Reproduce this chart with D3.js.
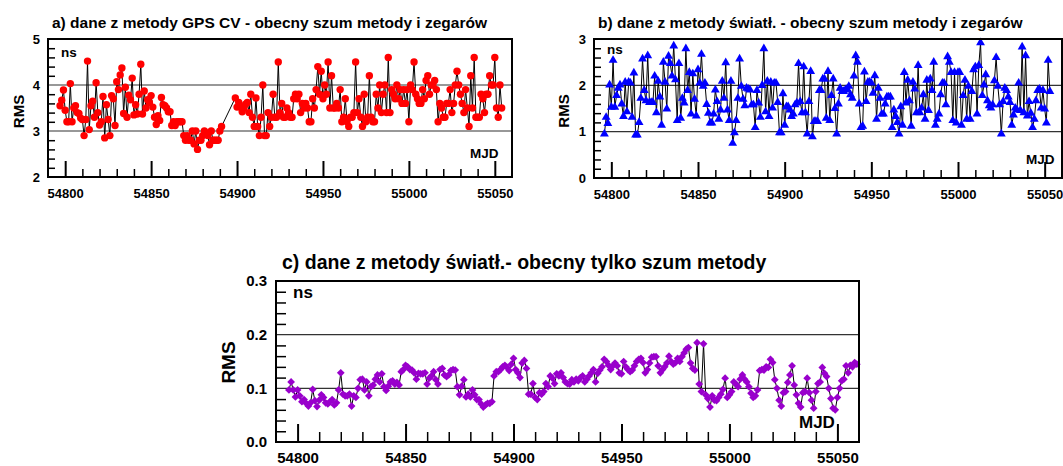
<!DOCTYPE html>
<html>
<head>
<meta charset="utf-8">
<script src="https://cdn.jsdelivr.net/npm/d3@7"></script>
<style>
body { margin: 0; background: #fff; }
svg text { font-family: "Liberation Sans", Arial, sans-serif; font-weight: bold; fill: #000; }
</style>
</head>
<body>
<svg id="chart" width="1063" height="466"></svg>
<script>
const mjdMin = 54790, mjdMax = 55060;
const mjdTicks = [54800, 54850, 54900, 54950, 55000, 55050];

// a) GPS CV, two runs of daily values (gap around MJD 54892-54898)
const gpsStart1 = 54797;
const gpsRms1 = [
    3.55, 3.67, 3.89, 3.45, 3.2, 3.2, 4.03, 3.2, 3.5, 3.55,
    3.4, 3.38, 3.28, 3.25, 2.9, 3.25, 4.52, 3.03, 3.55, 3.65,
    3.3, 4.05, 3.4, 3.13, 3.2, 3.75, 2.85, 3.57, 3.25, 2.9,
    3.77, 3.7, 3.12, 4.07, 3.9, 4.22, 4.37, 3.38, 3.95, 3.3,
    3.78, 3.68, 4.15, 3.35, 3.57, 3.37, 3.8, 4.45, 3.37, 3.87,
    3.5, 3.68, 3.62, 3.77, 3.52, 3.3, 3.14, 3.33, 3.23, 3.73,
    3.57, 3.55, 3.5, 3.42, 3.42, 3.12, 3.2, 3.12, 3.2, 3.2, 3.2,
    3.2, 2.9, 2.8, 2.9, 2.8, 2.8, 3.0, 2.72, 3.0, 2.6,
    2.8, 2.8, 2.9, 3.0, 2.95, 2.9, 2.7, 3.0, 2.8, 2.8, 2.8, 2.8, 3.0, 3.1
];
const gpsStart2 = 54899;
const gpsRms2 = [
    3.72, 3.52, 3.62, 3.52, 3.42, 3.5, 3.58, 3.62, 3.4, 3.8,
    3.3, 3.1, 3.72, 3.1, 2.9, 3.3, 4.0, 2.9, 2.9,
    3.4, 3.1, 3.3, 3.8, 3.3, 3.3, 4.5, 3.4, 3.6, 3.3,
    3.3, 3.5, 3.4, 3.3, 3.3, 3.7, 3.8, 3.7, 3.8, 3.4,
    3.6, 3.5, 3.6, 3.5, 3.2, 3.2, 3.7, 3.5, 3.9, 4.4,
    3.8, 4.3, 3.7, 4.0, 3.8, 4.5, 3.5, 4.2, 3.5, 3.5,
    3.6, 3.5, 3.9, 3.2, 3.3, 3.7, 3.2, 3.1, 3.3, 3.3,
    3.4, 4.5, 3.4, 3.7, 3.3, 3.1, 3.8, 3.2, 3.3, 4.2,
    3.3, 3.2, 3.2, 3.8, 3.5, 4.0, 3.4, 3.8, 4.0, 3.4,
    4.6, 3.4, 3.9, 3.8, 3.7, 4.0, 3.7, 3.9, 3.6, 3.9,
    3.6, 3.9, 3.2, 4.0, 3.9, 4.5, 3.8, 3.7, 3.6, 3.6,
    3.9, 3.7, 4.1, 4.2, 3.8, 4.0, 4.0, 4.1, 3.9, 3.2,
    3.6, 3.5, 3.3, 3.3, 3.6, 3.6, 3.9, 3.4, 3.6, 4.0,
    4.3, 4.0, 3.8, 3.6, 3.4, 3.9, 3.5, 3.1, 4.2, 3.5,
    4.6, 3.3, 3.3, 3.3, 3.8, 3.7, 3.4, 3.8, 3.8, 4.2,
    4.0, 4.0, 4.6, 3.5, 3.3, 4.0, 3.5
];

// b) light method with clock noise, daily
const lightStart = 54796;
const lightRms = [
    0.95, 1.31, 1.18, 2.01, 1.53, 2.54, 1.53, 1.78, 1.94, 2.01, 1.6,
    1.33, 2.07, 1.43, 2.07, 2.05, 1.31, 2.27, 0.93, 0.93, 1.2,
    1.72, 2.57, 1.89, 1.67, 2.64, 1.63, 1.63, 1.63, 2.2, 1.41, 2.09, 1.75, 1.14, 2.5, 2.07, 1.49, 2.63, 2.47, 2.2,
    2.85, 2.12, 1.24, 2.47, 1.29, 1.72, 1.62, 2.79, 1.89, 2.28, 1.38, 2.25, 1.7,
    1.34, 2.34, 2.05, 2.67, 1.98, 2.05, 1.59, 1.4,
    1.19, 1.19, 1.38, 1.9, 1.65, 1.27, 1.47, 2.09, 1.72, 2.49, 1.47, 1.24, 2.09, 0.75, 0.98,
    1.24, 1.72, 2.57, 1.98, 1.7, 1.56, 1.94, 1.92, 1.9, 1.58, 1.58, 1.09, 1.89, 1.62, 1.31, 2.0,
    2.79, 1.43, 2.09, 1.33, 2.07, 1.51, 2.05, 2.05, 1.63, 0.98, 0.98, 1.82, 1.14, 1.54, 1.54,
    1.47, 1.33, 1.38, 1.58, 1.62, 2.47, 1.65, 1.41, 2.4, 1.41, 0.95, 1.65, 2.3, 0.89, 1.22,
    1.22, 1.22, 1.89, 1.89, 2.14, 2.14, 1.29,
    2.3, 1.24, 1.78, 2.14, 1.5, 0.95, 1.6,
    1.94, 1.87, 1.87, 1.9, 1.92, 1.98, 1.8, 1.72, 2.2, 2.64, 2.5, 1.6,
    1.09, 1.12, 2.29, 1.65, 2.07, 2.07, 2.05, 1.83, 2.21, 1.27, 1.94, 1.72, 1.38, 1.38, 1.6,
    1.75, 1.75, 1.75, 1.09, 1.47, 1.33, 1.2,
    0.95, 1.54, 1.14, 2.28, 1.62, 2.11, 1.67, 1.12, 2.07, 1.92, 1.41, 2.43, 1.41, 1.51, 1.8,
    1.27, 2.11, 1.46, 2.14, 1.89, 2.5, 1.14, 1.27, 1.38, 1.8,
    2.05, 2.05, 1.58, 2.62, 2.5, 2.28, 1.24, 2.28, 1.19, 2.28, 2.28, 1.14, 1.78, 2.11, 1.27,
    1.98, 1.27, 1.87, 2.34, 2.4, 1.38, 2.43, 2.92, 1.78, 2.01, 2.23, 1.67, 1.56, 1.51, 1.58, 2.1,
    2.6, 1.98, 1.58, 0.95, 1.65, 1.94, 1.89, 1.75, 1.63, 1.14, 1.36, 1.51, 1.47, 2.05, 1.46,
    2.83, 1.41, 2.64, 1.34, 1.65, 1.4,
    1.09, 1.27, 1.67, 1.89, 1.92, 1.51, 1.89, 1.49, 1.19, 2.54, 1.87
];

// c) light method, method noise only, daily
const methodStart = 54796;
const methodRms = [
    0.097, 0.112, 0.097, 0.084, 0.097, 0.086, 0.075, 0.079, 0.072, 0.067,
    0.073, 0.098, 0.077, 0.066, 0.078, 0.088, 0.083, 0.073, 0.071, 0.075,
    0.079, 0.069, 0.073, 0.097, 0.129, 0.089, 0.086, 0.086, 0.089, 0.067,
    0.086, 0.083, 0.1, 0.116, 0.117, 0.097, 0.112, 0.086, 0.103, 0.106,
    0.117, 0.125, 0.112, 0.127, 0.103, 0.096, 0.104, 0.112, 0.114, 0.108,
    0.111, 0.106, 0.131, 0.135, 0.143, 0.14, 0.135, 0.134, 0.129, 0.117,
    0.128, 0.127, 0.127, 0.129, 0.108, 0.119, 0.123, 0.131, 0.116, 0.108,
    0.135, 0.137, 0.125, 0.122, 0.125, 0.133, 0.135, 0.134, 0.103, 0.088,
    0.104, 0.116, 0.084, 0.089, 0.084, 0.097, 0.088, 0.079, 0.079, 0.071,
    0.065, 0.069, 0.072, 0.072, 0.075, 0.123, 0.131, 0.131, 0.135, 0.14,
    0.143, 0.139, 0.133, 0.145, 0.156, 0.135, 0.129, 0.12, 0.147, 0.152,
    0.137, 0.089, 0.089, 0.109, 0.083, 0.079, 0.092, 0.089, 0.094, 0.109,
    0.103, 0.123, 0.119, 0.109, 0.127, 0.123, 0.129, 0.12, 0.112, 0.109,
    0.108,
    0.116, 0.112, 0.117, 0.114, 0.12, 0.123, 0.112, 0.117, 0.123, 0.129,
    0.135, 0.112, 0.128, 0.134, 0.14, 0.154, 0.15, 0.143, 0.135, 0.142,
    0.147, 0.142, 0.129, 0.127, 0.15, 0.14, 0.135, 0.131, 0.134, 0.142,
    0.15, 0.154, 0.156, 0.148, 0.129, 0.135, 0.147, 0.158, 0.159, 0.159,
    0.142, 0.129, 0.135, 0.14, 0.147, 0.16, 0.15, 0.145, 0.148, 0.156,
    0.15, 0.159, 0.166, 0.173, 0.176, 0.147, 0.137, 0.134, 0.185, 0.108,
    0.094, 0.183, 0.088, 0.081, 0.065, 0.086, 0.078, 0.077, 0.083, 0.089,
    0.098, 0.119, 0.083, 0.088, 0.094, 0.112, 0.108, 0.103, 0.117, 0.125,
    0.117, 0.112, 0.103, 0.091, 0.083, 0.086, 0.097, 0.133, 0.135, 0.134,
    0.14, 0.139, 0.154, 0.148, 0.116, 0.1, 0.078, 0.067, 0.092, 0.094,
    0.111, 0.125, 0.142, 0.106, 0.088, 0.072, 0.065, 0.092, 0.094, 0.119,
    0.092, 0.078, 0.063, 0.094, 0.109, 0.112, 0.139, 0.128, 0.122, 0.1,
    0.081, 0.063, 0.06, 0.083, 0.1, 0.114, 0.117, 0.142, 0.129, 0.143,
    0.14, 0.148, 0.145
];

const toPoints = (start, values) => values.map((v, i) => ({ mjd: start + i, v: v }));

const svg = d3.select('#chart');

const panels = [
    {
        title: 'a) dane z metody GPS CV - obecny szum metody i zegarów',
        points: toPoints(gpsStart1, gpsRms1).concat(toPoints(gpsStart2, gpsRms2)),
        left: 48, right: 512, top: 39, bottom: 177,
        yDomain: [2, 5], yMajor: [2, 3, 4, 5], grid: [3, 4], yMinorStep: 0.2, yFormat: d3.format('d'),
        marker: 'circle', color: '#ff0000',
        titleX: 52, titleY: 28, titleSize: 15.5,
        tickSize: 13, xPad: 12, yPad: 8,
        majorLen: 16, minorLen: 8, yMinorLen: 7,
        ns: [61, 57, 13.5], mjd: [470, 158, 13.5], rms: [24, 111.5, 15]
    },
    {
        title: 'b) dane z metody światł. - obecny szum metody i zegarów',
        points: toPoints(lightStart, lightRms),
        left: 594, right: 1062, top: 39, bottom: 178,
        yDomain: [0, 3], yMajor: [0, 1, 2, 3], grid: [1, 2], yMinorStep: 0.2, yFormat: d3.format('d'),
        marker: 'triangle', color: '#0000ff',
        titleX: 598, titleY: 28, titleSize: 15.5,
        tickSize: 13, xPad: 12, yPad: 8,
        majorLen: 16, minorLen: 8, yMinorLen: 7,
        ns: [607, 54, 13.5], mjd: [1026, 164, 13.5], rms: [569, 111, 15]
    },
    {
        title: 'c) dane z metody światł.- obecny tylko szum metody',
        points: toPoints(methodStart, methodRms),
        left: 276, right: 859, top: 281, bottom: 442,
        yDomain: [0, 0.3], yMajor: [0, 0.1, 0.2, 0.3], grid: [0.1, 0.2], yMinorStep: 0.02, yFormat: d3.format('.1f'),
        marker: 'diamond', color: '#9900cc',
        titleX: 282, titleY: 269, titleSize: 19.5,
        tickSize: 15, xPad: 10.5, yPad: 9,
        majorLen: 18, minorLen: 10, yMinorLen: 10,
        ns: [293, 298, 17], mjd: [799, 428, 17], rms: [235, 362.5, 19]
    }
];

function drawPanel(p) {
    let g = svg.append('g');
    let x = d3.scaleLinear().domain([mjdMin, mjdMax]).range([p.left, p.right]);
    let y = d3.scaleLinear().domain(p.yDomain).range([p.bottom, p.top]);

    // horizontal grid lines
    g.selectAll('.grid')
        .data(p.grid)
      .enter().append('line')
        .attr('x1', p.left).attr('x2', p.right)
        .attr('y1', d => y(d)).attr('y2', d => y(d))
        .attr('stroke', '#333').attr('stroke-width', 1.2);

    // x axis: minor ticks every 10 days, major every 50 with labels
    let minorX = d3.range(mjdMin + 10, mjdMax, 10).filter(v => !mjdTicks.includes(v));
    g.append('g')
        .attr('transform', 'translate(0,' + p.bottom + ')')
        .call(d3.axisBottom(x).tickValues(minorX).tickSize(-p.minorLen).tickFormat(''))
        .call(a => a.select('.domain').remove())
        .selectAll('line').attr('stroke', '#000').attr('stroke-width', 1.5);

    let xAxis = g.append('g')
        .attr('transform', 'translate(0,' + p.bottom + ')')
        .call(d3.axisBottom(x).tickValues(mjdTicks).tickSize(-p.majorLen)
            .tickPadding(p.xPad).tickFormat(d3.format('d')));
    xAxis.select('.domain').remove();
    xAxis.selectAll('line').attr('stroke', '#000').attr('stroke-width', 2);
    xAxis.selectAll('text').attr('font-size', p.tickSize).attr('font-family', null);

    // y axis: minor ticks, labels at majors
    let nSteps = Math.round((p.yDomain[1] - p.yDomain[0]) / p.yMinorStep);
    let minorY = d3.range(1, nSteps)
        .map(i => p.yDomain[0] + i * p.yMinorStep)
        .filter(v => !p.yMajor.some(m => Math.abs(m - v) < 1e-9));
    g.append('g')
        .attr('transform', 'translate(' + p.left + ',0)')
        .call(d3.axisLeft(y).tickValues(minorY).tickSize(-p.yMinorLen).tickFormat(''))
        .call(a => a.select('.domain').remove())
        .selectAll('line').attr('stroke', '#000').attr('stroke-width', 1.5);

    let yAxis = g.append('g')
        .attr('transform', 'translate(' + p.left + ',0)')
        .call(d3.axisLeft(y).tickValues(p.yMajor).tickSize(0)
            .tickPadding(p.yPad).tickFormat(p.yFormat));
    yAxis.select('.domain').remove();
    yAxis.selectAll('text').attr('font-size', p.tickSize).attr('font-family', null);

    // data line and markers
    let line = d3.line().x(d => x(d.mjd)).y(d => y(d.v));
    g.append('path')
        .datum(p.points)
        .attr('d', line)
        .attr('fill', 'none')
        .attr('stroke', '#000')
        .attr('stroke-width', 1);

    let marks = g.append('g').selectAll('.mark').data(p.points).enter();
    if (p.marker === 'circle') {
        marks.append('circle')
            .attr('cx', d => x(d.mjd)).attr('cy', d => y(d.v))
            .attr('r', 3.7).attr('fill', p.color);
    } else if (p.marker === 'triangle') {
        marks.append('path')
            .attr('d', d3.symbol(d3.symbolTriangle, 34))
            .attr('transform', d => 'translate(' + x(d.mjd) + ',' + y(d.v) + ')')
            .attr('fill', p.color);
    } else {
        marks.append('path')
            .attr('d', d3.symbol(d3.symbolSquare, 30))
            .attr('transform', d => 'translate(' + x(d.mjd) + ',' + y(d.v) + ') rotate(45)')
            .attr('fill', p.color);
    }

    // frame
    g.append('rect')
        .attr('x', p.left).attr('y', p.top)
        .attr('width', p.right - p.left).attr('height', p.bottom - p.top)
        .attr('fill', 'none').attr('stroke', '#000').attr('stroke-width', 2);

    // texts
    g.append('text')
        .attr('x', p.titleX).attr('y', p.titleY)
        .attr('font-size', p.titleSize)
        .text(p.title);
    g.append('text')
        .attr('x', p.ns[0]).attr('y', p.ns[1])
        .attr('font-size', p.ns[2])
        .text('ns');
    g.append('text')
        .attr('x', p.mjd[0]).attr('y', p.mjd[1])
        .attr('font-size', p.mjd[2])
        .text('MJD');
    g.append('text')
        .attr('transform', 'translate(' + p.rms[0] + ',' + p.rms[1] + ') rotate(-90)')
        .attr('text-anchor', 'middle')
        .attr('font-size', p.rms[2])
        .text('RMS');
}

panels.forEach(drawPanel);
</script>
</body>
</html>
